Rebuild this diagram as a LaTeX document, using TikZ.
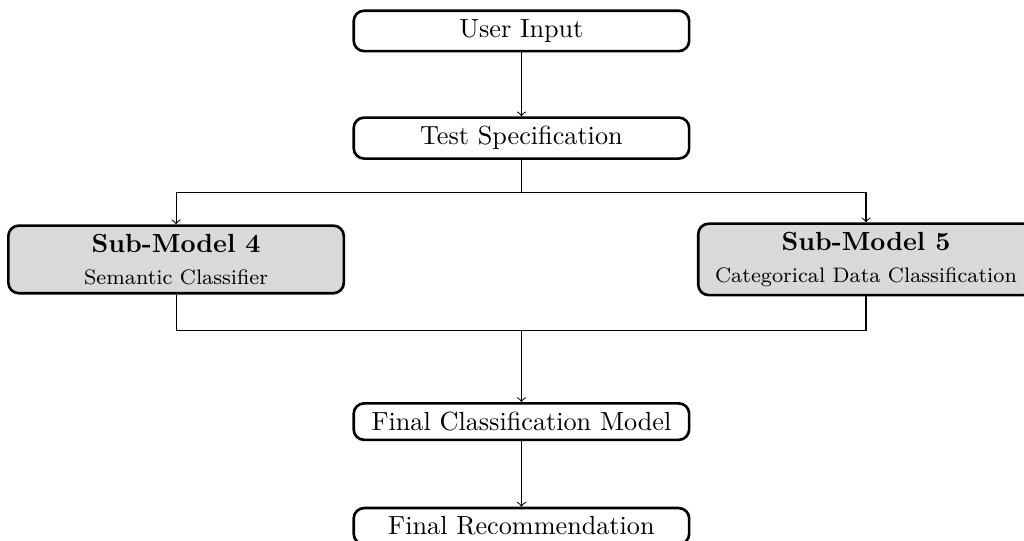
\documentclass[tikz,border=0pt]{standalone}
\usetikzlibrary{calc}
\begin{document}
\begin{tikzpicture}[x=1pt,y=-1pt,
  box/.style={draw, line width=1pt, rounded corners=4pt, minimum width=4.5cm,
    align=center, inner sep=3.33pt},
  subbox/.style={box, fill=gray!30},
  link/.style={->, line width=0.4pt}]
  % page frame; boxes that reach past it are cut off
  \clip (0,0) rectangle (390.8,206.1);

  \node[box] (input) at (199,11.8) {User Input};
  \node[box] (spec) at (199,52.7) {Test Specification};
  \node[subbox] (sm4) at (67.2,99.0)
    {\textbf{Sub-Model 4}\\{\footnotesize Semantic Classifier}};
  \node[subbox] (sm5) at (330.5,99.0)
    {\textbf{Sub-Model 5}\\{\footnotesize Categorical Data Classification}};
  \node[box] (final) at (199,160.9) {Final Classification Model};
  \node[box] (rec) at (199,200.8) {Final Recommendation};

  \coordinate (split) at (199,73.3);
  \coordinate (join) at (199,126.3);

  \draw[link] (input) -- (spec);
  \draw[line width=0.4pt] (spec.south) -- (split);
  \draw[link] (split) -| (sm4.north);
  \draw[link] (split) -| (sm5.north);
  \draw[line width=0.4pt] (sm4.south) |- (join) -| (sm5.south);
  \draw[link] (join) -- (final.north);
  \draw[link] (final) -- (rec);
\end{tikzpicture}
\end{document}
